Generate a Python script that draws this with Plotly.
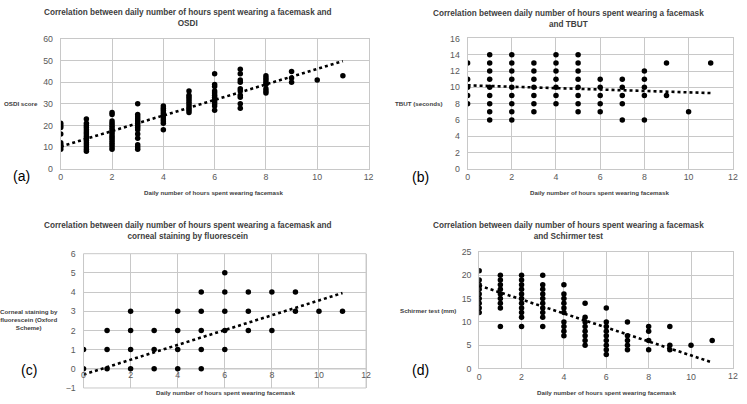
import plotly.graph_objects as go

# ---------------- data ----------------
# (a) OSDI score by daily hours
osdi = {
    0: [9, 10, 11, 12, 16, 19, 20, 21],
    1: [8, 9, 10, 11, 12, 13, 14, 15, 16, 17, 18, 19, 20, 21, 23],
    2: [9, 10, 11, 12, 13, 14, 15, 16, 17, 18, 19, 20, 21, 22, 25, 26],
    3: [9, 10, 11, 14, 16, 18, 19, 20, 21, 22, 23, 24, 25, 30],
    4: [18, 21, 22, 23, 24, 25, 26, 27, 28, 29],
    5: [26, 27, 28, 29, 30, 31, 32, 33, 34, 36],
    6: [27, 29, 30, 31, 32, 33, 34, 35, 36, 38, 39, 44],
    7: [28, 30, 33, 34, 36, 37, 40, 41, 44, 46],
    8: [35, 36, 37, 39, 40, 41, 42, 43],
    9: [40, 42, 45],
    10: [41],
    11: [43],
}
osdi_trend_x = [0, 11]
osdi_trend_y = [10.2, 49.8]

# (b) TBUT (seconds)
tbut = {
    0: [8, 9, 10, 11, 13],
    1: [6, 7, 8, 9, 10, 11, 12, 13, 14],
    2: [6, 7, 8, 9, 10, 11, 12, 13, 14],
    3: [7, 8, 9, 10, 11, 12, 13],
    4: [8, 9, 10, 11, 12, 13, 14],
    5: [7, 8, 9, 10, 11, 12, 13, 14],
    6: [7, 8, 9, 10, 11],
    7: [6, 8, 9, 10, 11],
    8: [6, 9, 10, 11, 12],
    9: [9, 13],
    10: [7],
    11: [13],
}
tbut_trend_x = [0, 11]
tbut_trend_y = [10.25, 9.3]

# (c) Corneal staining (Oxford scheme)
stain = {
    0: [0, 1],
    1: [0, 1, 2],
    2: [0, 1, 2, 3],
    3: [0, 1, 2],
    4: [0, 1, 2, 3],
    5: [0, 1, 2, 3, 4],
    6: [1, 2, 3, 4, 5],
    7: [2, 3, 4],
    8: [2, 4],
    9: [3, 4],
    10: [3],
    11: [3],
}
stain_trend_x = [0, 11]
stain_trend_y = [-0.3, 3.95]

# (d) Schirmer test (mm)
schirmer = {
    0: [12, 13, 14, 15, 16, 17, 18, 19, 21],
    1: [9, 13, 14, 15, 16, 17, 18, 19, 20],
    2: [9, 11, 12, 13, 14, 15, 16, 17, 18, 19, 20],
    3: [9, 11, 12, 13, 14, 15, 16, 17, 18, 20],
    4: [7, 8, 9, 10, 12, 13, 14, 15, 16, 18],
    5: [5, 6, 7, 8, 9, 10, 11, 14],
    6: [3, 4, 5, 6, 7, 8, 9, 10, 13],
    7: [4, 5, 6, 7, 10],
    8: [4, 6, 8, 9],
    9: [4, 5, 9],
    10: [5],
    11: [6],
}
schirmer_trend_x = [0, 11]
schirmer_trend_y = [17.8, 1.3]

x_ticks = [0, 2, 4, 6, 8, 10, 12]

titles = [
    "Correlation between daily number of hours spent wearing a facemask and<br>OSDI",
    "Correlation between daily number of hours spent wearing a facemask<br>and TBUT",
    "Correlation between daily number of hours spent wearing a facemask and<br>corneal staining by fluorescein",
    "Correlation between daily number of hours spent wearing a facemask<br>and Schirmer test",
]
xlabel = "Daily number of hours spent wearing facemask"
ylabels = ["OSDI score", "TBUT (seconds)",
           "Corneal staining by<br>fluorescein (Oxford<br>Scheme)", "Schirmer test (mm)"]
letters = ["(a)", "(b)", "(c)", "(d)"]

W, H = 747, 404


def flat(d):
    xs, ys = [], []
    for k, vals in d.items():
        for v in vals:
            xs.append(k)
            ys.append(v)
    return xs, ys


fig = go.Figure()
panels = [
    (osdi, osdi_trend_x, osdi_trend_y),
    (tbut, tbut_trend_x, tbut_trend_y),
    (stain, stain_trend_x, stain_trend_y),
    (schirmer, schirmer_trend_x, schirmer_trend_y),
]
for i, (d, tx, ty) in enumerate(panels):
    sfx = "" if i == 0 else str(i + 1)
    xs, ys = flat(d)
    fig.add_trace(go.Scatter(x=xs, y=ys, mode="markers",
                             marker=dict(color="black", size=5.5),
                             xaxis="x" + sfx, yaxis="y" + sfx, showlegend=False))
    fig.add_trace(go.Scatter(x=tx, y=ty, mode="lines",
                             line=dict(color="black", width=2.6, dash="dot"),
                             xaxis="x" + sfx, yaxis="y" + sfx, showlegend=False))


def px_x(p):
    return p / W


def px_y(p):
    return 1 - p / H


grid = "#c8c8c8"
tickfont = dict(family="Liberation Sans, Arial, sans-serif", size=8.8, color="#595959")
ax_common = dict(showgrid=True, gridcolor=grid, gridwidth=1, zeroline=False,
                 showline=True, linecolor=grid, mirror=True, ticks="",
                 tickfont=tickfont, fixedrange=True)
xstd = dict(ticklabeloverflow="allow")
ystd = dict(ticklabelstandoff=5)
# right-hand panels: last tick label (at the page edge) drawn as annotation
x_edge = dict(tickvals=x_ticks[:-1], ticklabeloverflow="allow")

fig.update_layout(
    xaxis=dict(domain=[px_x(59.3), px_x(370)], range=[0, 12], dtick=2, anchor="y", **xstd, **ax_common),
    yaxis=dict(domain=[px_y(167.7), px_y(35)], range=[0, 60], dtick=10, anchor="x", **ystd, **ax_common),
    xaxis2=dict(domain=[px_x(470), px_x(737.7)], range=[0, 12], anchor="y2", **x_edge, **ax_common),
    yaxis2=dict(domain=[px_y(168), px_y(34.3)], range=[0, 16], dtick=2, anchor="x2", **ystd, **ax_common),
    xaxis3=dict(domain=[px_x(82.3), px_x(367.5)], range=[0, 12], dtick=2, anchor="free",
                position=px_y(372.3), **xstd, **ax_common),
    yaxis3=dict(domain=[px_y(392.7), px_y(255)], range=[-1, 6], dtick=1, anchor="x3", **ystd, **ax_common),
    xaxis4=dict(domain=[px_x(481.7), px_x(738.3)], range=[0, 12], anchor="y4", **x_edge, **ax_common),
    yaxis4=dict(domain=[px_y(372.7), px_y(253.3)], range=[0, 25], dtick=5, anchor="x4", **ystd, **ax_common),
)
fig.update_layout(xaxis3=dict(showline=False))
fig.add_shape(type="line", xref="x3 domain", yref="y3", x0=0, x1=1, y0=0, y1=0,
              line=dict(color="#a6a6a6", width=1), layer="below")
fig.add_shape(type="rect", xref="x3 domain", yref="y3 domain", x0=0, x1=1, y0=0, y1=1,
              line=dict(color=grid, width=1), layer="below")

tfont = dict(family="Liberation Sans, Arial, sans-serif", size=8.2, color="#404040")
lfont = dict(family="Liberation Sans, Arial, sans-serif", size=6.2, color="#404040")
ann = []
title_pos = [(188, 13), (572, 14), (188, 232), (572, 231.5)]
for t, (cx, cy) in zip(titles, title_pos):
    ann.append(dict(text="<b>" + t + "</b>", x=px_x(cx), y=px_y(cy), xref="paper", yref="paper",
                    showarrow=False, font=tfont, xanchor="center", yanchor="middle"))
xl_pos = [(214, 192), (603, 192), (225.7, 397), (610.7, 397)]
for cx, cy in xl_pos:
    ann.append(dict(text="<b>" + xlabel + "</b>", x=px_x(cx), y=px_y(cy), xref="paper", yref="paper",
                    showarrow=False, font=lfont, xanchor="center", yanchor="middle"))
yl_pos = [(38, 101, "right"), (446, 101, "right"), (27, 322.5, "center"), (460, 313, "right")]
for t, (cx, cy, xa) in zip(ylabels, yl_pos):
    ann.append(dict(text="<b>" + t + "</b>", x=px_x(cx), y=px_y(cy), xref="paper", yref="paper",
                    showarrow=False, font=lfont, xanchor=xa, yanchor="middle", align="center"))
let_pos = [(19.5, 175), (422, 176.5), (27, 374), (422, 374)]
for t, (cx, cy) in zip(letters, let_pos):
    ann.append(dict(text=t, x=px_x(cx), y=px_y(cy), xref="paper", yref="paper",
                    showarrow=False, font=dict(family="Liberation Sans, Arial, sans-serif", size=14, color="black"),
                    xanchor="center", yanchor="middle"))
# last x tick label on the right-hand panels
for xr, yr in (("x2", "y2 domain"), ("x4", "y4 domain")):
    ann.append(dict(text=str(x_ticks[-1]), x=x_ticks[-1], y=0, xref=xr, yref=yr,
                    showarrow=False, font=tickfont, xanchor="center", yanchor="top",
                    yshift=-2, borderpad=0))

fig.update_layout(annotations=ann, width=W, height=H,
                  margin=dict(l=0, r=0, t=0, b=0),
                  paper_bgcolor="white", plot_bgcolor="white")

fig.write_html("out.html", config={"displayModeBar": False},
               post_script="document.body.style.margin='0';document.body.style.overflow='hidden';")
